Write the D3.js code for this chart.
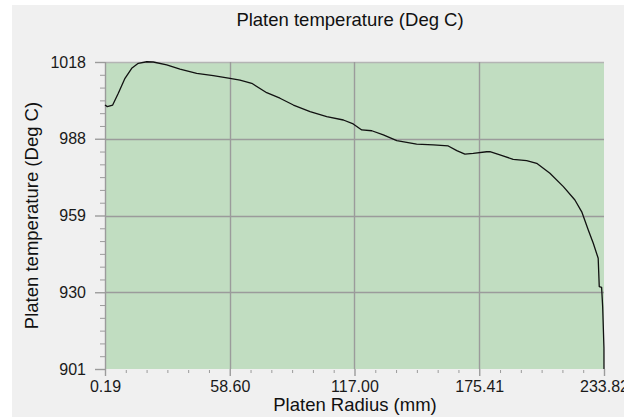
<!DOCTYPE html>
<html>
<head>
<meta charset="utf-8">
<script src="https://cdn.jsdelivr.net/npm/d3@7"></script>
<style>
  html, body { margin: 0; padding: 0; background: #ffffff; }
  svg { display: block; font-family: "Liberation Sans", Arial, sans-serif; }
</style>
</head>
<body>
<svg id="chart" width="624" height="419"></svg>
<script>
// Platen radius (mm) and measured temperature (Deg C)
const radius = [0.19, 1.27, 3.79, 6.42, 9.55, 12.69, 15.78, 19.71, 22.80, 29.08,
  35.3, 43.12, 50.9, 58.7, 63.4, 68.9, 75.9, 82.1, 88.4, 96.2,
  104.0, 111.8, 116.4, 120.4, 125.1, 130.5, 136.8, 146.1, 153.9, 160.9,
  164.9, 168.7, 172.6, 178.9, 180.4, 185.1, 191.3, 197.6, 202.3, 208.5,
  214.8, 220.2, 223.4, 226.5, 228.8, 231.1, 231.6, 232.7, 233.2, 233.8, 233.82];
const temperature = [1001.6, 1001.0, 1001.6, 1006.1, 1011.8, 1015.6, 1017.5, 1018.1, 1018.0, 1016.9,
  1015.3, 1013.7, 1012.8, 1011.8, 1011.1, 1009.9, 1006.3, 1004.2, 1001.6, 999.1,
  997.2, 995.9, 994.4, 992.1, 991.8, 990.2, 988.0, 986.7, 986.4, 986.0,
  984.2, 982.9, 983.2, 983.8, 983.8, 982.6, 980.9, 980.4, 979.4, 975.6,
  970.5, 965.4, 960.9, 953.9, 948.9, 943.2, 932.4, 932.1, 924.7, 908.9, 901.0];

// Axis ticks
const xTickValues = [0.19, 58.60, 117.00, 175.41, 233.82];
const xTickLabels = ["0.19", "58.60", "117.00", "175.41", "233.82"];
const yTickValues = [901, 930.25, 959.5, 988.75, 1018];
const yTickLabels = ["901", "930", "959", "988", "1018"];

const titleText = "Platen temperature (Deg C)";
const xTitle = "Platen Radius (mm)";
const yTitle = "Platen temperature (Deg C)";

const svg = d3.select("#chart");
const plot = { left: 105, right: 604, top: 62, bottom: 369 };

const x = d3.scaleLinear().domain([0.19, 233.82]).range([plot.left, plot.right]);
const y = d3.scaleLinear().domain([901, 1018]).range([plot.bottom, plot.top]);

// panel background
svg.append("rect").attr("x", 12).attr("y", 5).attr("width", 612).attr("height", 412)
  .attr("fill", "#f0f0f0");

// plot area
svg.append("rect")
  .attr("x", plot.left).attr("y", plot.top)
  .attr("width", plot.right - plot.left).attr("height", plot.bottom - plot.top)
  .attr("fill", "#c1ddc1");

// minor tick positions: five between each pair of major ticks
function minors(vals) {
  const out = [];
  for (let i = 0; i < vals.length - 1; i++) {
    for (let k = 1; k < 6; k++) out.push(vals[i] + (vals[i + 1] - vals[i]) * k / 6);
  }
  return out;
}

const gridColor = "#9b9b9b";

// horizontal grid lines
svg.append("g").selectAll("line")
  .data(yTickValues.slice(1))
  .join("line")
  .attr("x1", plot.left).attr("x2", plot.right)
  .attr("y1", d => Math.round(y(d)) + 0.5).attr("y2", d => Math.round(y(d)) + 0.5)
  .attr("stroke", (d, i, n) => i === n.length - 1 ? "#b4b4b4" : gridColor)
  .attr("stroke-width", 1.4);

// vertical grid lines
svg.append("g").selectAll("line")
  .data(xTickValues.slice(1, -1))
  .join("line")
  .attr("x1", d => Math.round(x(d)) + 0.5).attr("x2", d => Math.round(x(d)) + 0.5)
  .attr("y1", plot.top).attr("y2", plot.bottom)
  .attr("stroke", gridColor).attr("stroke-width", 1.4);

// left axis line
svg.append("line")
  .attr("x1", plot.left + 0.5).attr("x2", plot.left + 0.5)
  .attr("y1", plot.top).attr("y2", plot.bottom)
  .attr("stroke", gridColor).attr("stroke-width", 1.4);

// y axis
const yAxis = d3.axisLeft(y).tickValues(yTickValues)
  .tickFormat((d, i) => yTickLabels[i]).tickSize(10).tickPadding(9);
const gy = svg.append("g").attr("transform", `translate(${plot.left},0)`).call(yAxis);
gy.select(".domain").remove();
gy.selectAll(".tick line").attr("stroke", gridColor).attr("stroke-width", 1.4);
gy.selectAll(".tick text").attr("font-size", 16).attr("fill", "#1a1a1a")
  .attr("font-family", "Liberation Sans, Arial, sans-serif");

const gyMinor = d3.axisLeft(y).tickValues(minors(yTickValues)).tickSize(5).tickFormat("");
const gym = svg.append("g").attr("transform", `translate(${plot.left},0)`).call(gyMinor);
gym.select(".domain").remove();
gym.selectAll(".tick line").attr("stroke", gridColor);

// x axis
const xAxis = d3.axisBottom(x).tickValues(xTickValues)
  .tickFormat((d, i) => xTickLabels[i]).tickSize(7).tickPadding(5);
const gx = svg.append("g").attr("transform", `translate(0,${plot.bottom})`).call(xAxis);
gx.select(".domain").remove();
gx.selectAll(".tick line").attr("stroke", gridColor).attr("stroke-width", 1.4);
gx.selectAll(".tick text").attr("font-size", 16).attr("fill", "#1a1a1a")
  .attr("font-family", "Liberation Sans, Arial, sans-serif");

const gxMinor = d3.axisBottom(x).tickValues(minors(xTickValues)).tickSize(3).tickFormat("");
const gxm = svg.append("g").attr("transform", `translate(0,${plot.bottom + 1})`).call(gxMinor);
gxm.select(".domain").remove();
gxm.selectAll(".tick line").attr("stroke", gridColor);

// temperature profile
const pts = radius.map((r, i) => [r, temperature[i]]);
svg.append("path")
  .datum(pts)
  .attr("fill", "none")
  .attr("stroke", "#111")
  .attr("stroke-width", 1.3)
  .attr("stroke-linejoin", "round")
  .attr("d", d3.line().x(d => x(d[0])).y(d => y(d[1])));

// titles
svg.append("text").attr("x", 350).attr("y", 26).attr("text-anchor", "middle")
  .attr("font-size", 18.5).attr("fill", "#111").text(titleText);
svg.append("text").attr("x", 355).attr("y", 411).attr("text-anchor", "middle")
  .attr("font-size", 18.5).attr("fill", "#111").text(xTitle);
svg.append("text")
  .attr("transform", `translate(38,${(plot.top + plot.bottom) / 2}) rotate(-90)`)
  .attr("text-anchor", "middle")
  .attr("font-size", 18.5).attr("fill", "#111").text(yTitle);
</script>
</body>
</html>
